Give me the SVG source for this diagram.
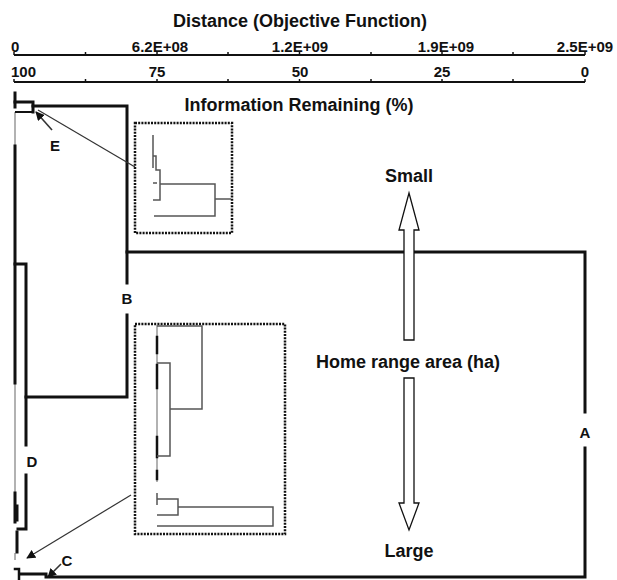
<svg xmlns="http://www.w3.org/2000/svg" width="617" height="580" viewBox="0 0 617 580">
<style>
text{font-family:"Liberation Sans",Arial,sans-serif;font-weight:bold;fill:#111}
.t{font-size:18px}
.tk{font-size:15px}
.lb{font-size:15px}
.ax{stroke:#111;stroke-width:2;fill:none}
.tick{stroke:#111;stroke-width:1.5}
.thick{stroke:#111;stroke-width:3;fill:none;stroke-linecap:square}
.gray{stroke:#999;stroke-width:1.5;fill:none}
.thin{stroke:#555;stroke-width:1.5;fill:none}
.box{stroke:#111;stroke-width:2.5;stroke-dasharray:2 1.2;fill:none}
.ptr{stroke:#333;stroke-width:1.2;fill:none}
.blk{fill:#fff;stroke:#111;stroke-width:1.3}
</style>
<defs>
<marker id="ah" viewBox="0 0 10 10" refX="9" refY="5" markerWidth="9" markerHeight="9" markerUnits="userSpaceOnUse" orient="auto">
<path d="M0,0 L10,5 L0,10 Z" fill="#111"/>
</marker>
</defs>
<rect width="617" height="580" fill="#fff"/>

<g id="axes">
<text class="t" x="300" y="27" text-anchor="middle">Distance (Objective Function)</text>
<line class="ax" x1="14" y1="55" x2="585" y2="55"/>
<g class="tick">
<line x1="14" y1="52" x2="14" y2="55"/><line x1="85.5" y1="52" x2="85.5" y2="55"/><line x1="157" y1="52" x2="157" y2="55"/><line x1="228" y1="52" x2="228" y2="55"/><line x1="299.5" y1="52" x2="299.5" y2="55"/><line x1="371" y1="52" x2="371" y2="55"/><line x1="442" y1="52" x2="442" y2="55"/><line x1="513" y1="52" x2="513" y2="55"/><line x1="585" y1="52" x2="585" y2="55"/>
</g>
<text class="tk" x="11" y="52">0</text>
<text class="tk" x="160" y="52" text-anchor="middle">6.2E+08</text>
<text class="tk" x="300" y="52" text-anchor="middle">1.2E+09</text>
<text class="tk" x="446" y="52" text-anchor="middle">1.9E+09</text>
<text class="tk" x="585" y="52" text-anchor="middle">2.5E+09</text>
<line class="ax" x1="14" y1="82" x2="585" y2="82"/>
<g class="tick">
<line x1="14" y1="79" x2="14" y2="82"/><line x1="85.5" y1="79" x2="85.5" y2="82"/><line x1="157" y1="79" x2="157" y2="82"/><line x1="228" y1="79" x2="228" y2="82"/><line x1="299.5" y1="79" x2="299.5" y2="82"/><line x1="371" y1="79" x2="371" y2="82"/><line x1="442" y1="79" x2="442" y2="82"/><line x1="513" y1="79" x2="513" y2="82"/><line x1="585" y1="79" x2="585" y2="82"/>
</g>
<text class="tk" x="11" y="77">100</text>
<text class="tk" x="157" y="77" text-anchor="middle">75</text>
<text class="tk" x="300" y="77" text-anchor="middle">50</text>
<text class="tk" x="442" y="77" text-anchor="middle">25</text>
<text class="tk" x="585" y="77" text-anchor="middle">0</text>
<text class="t" x="299" y="111" text-anchor="middle">Information Remaining (%)</text>
</g>

<g id="dendrogram">
<!-- leaf column -->
<path class="gray" d="M15,112 V145 M15,383 V492 M15,553 V560"/>
<path class="thick" d="M15,93 V107 M15,146 V383 M15,493 V522 M17,506 V520 M17,532 V552"/>
<!-- E cluster -->
<path class="thick" d="M15,102 H33 V112"/>
<path class="thin" d="M15,112 H33" style="stroke:#111;stroke-width:2"/>
<!-- B -->
<path class="thick" d="M33,106 H127 V283"/>
<path class="thick" d="M127,315 V397 H26"/>
<!-- A -->
<path class="thick" d="M127,252 H585 V412"/>
<path class="thick" d="M585,448 V577 H46 V574 H20"/>
<path class="thick" style="stroke-width:2.5" d="M15,569 H19 V579"/>
<!-- D -->
<path class="thick" d="M15,264 H26 V445"/>
<path class="thick" d="M26,475 V529 H18"/>
</g>

<g id="inset-top">
<rect class="box" x="135" y="123" width="97" height="110"/>
<path class="thin" d="M153,135 V168"/>
<path class="thin" d="M153,156 H156 V170 H160 V200 H153"/>
<path class="thin" d="M153,183 H157 M160,184 H215 V216 H154 M215,199 H231"/>
</g>

<g id="inset-bottom">
<rect class="box" x="135" y="324" width="150" height="210"/>
<path class="gray" d="M157,325 V482"/>
<path class="thick" style="stroke-width:2.5" d="M157,337 V353 M157,365 V388 M157,437 V457 M157,471 V479"/>
<path class="thin" d="M157,326 H202 V409 H170 M157,363 H170 V456 H157"/>
<path class="thin" d="M157,493 V505 M157,499 H178 V515 H157 M178,507 H273 V526 H157"/>
</g>

<g id="pointers">
<line class="ptr" x1="38" y1="110" x2="135" y2="167"/>
<line class="ptr" x1="52" y1="130" x2="36" y2="112" marker-end="url(#ah)" style="stroke-width:1.6"/>
<line class="ptr" x1="131" y1="495" x2="27" y2="558" marker-end="url(#ah)"/>
<line class="ptr" x1="61" y1="564" x2="48" y2="577" marker-end="url(#ah)" style="stroke-width:1.6"/>
</g>

<g id="labels">
<text class="lb" x="585" y="438" text-anchor="middle">A</text>
<text class="lb" x="127" y="304" text-anchor="middle">B</text>
<text class="lb" x="67" y="566" text-anchor="middle">C</text>
<text class="lb" x="32" y="467" text-anchor="middle">D</text>
<text class="lb" x="55" y="151" text-anchor="middle">E</text>
</g>

<g id="home-range">
<text class="t" x="409" y="182" text-anchor="middle">Small</text>
<polygon class="blk" points="409,193 419,230 414,230 414,340 404,340 404,230 399,230"/>
<text class="t" x="408" y="368" text-anchor="middle">Home range area (ha)</text>
<polygon class="blk" points="404,378 414,378 414,503 419,503 409,530 399,503 404,503"/>
<text class="t" x="409" y="557" text-anchor="middle">Large</text>
</g>
</svg>
